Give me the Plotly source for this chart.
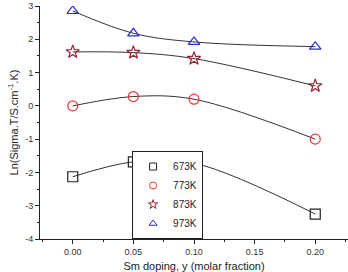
import plotly.graph_objects as go

x_vals = [0.0, 0.05, 0.10, 0.20]
series_names = ["673K", "773K", "873K", "973K"]
y_673 = [-2.13, -1.68, -1.72, -3.25]
y_773 = [0.0, 0.28, 0.20, -1.00]
y_873 = [1.62, 1.60, 1.42, 0.60]
y_973 = [2.85, 2.18, 1.92, 1.78]
y_ticks = [-4, -3, -2, -1, 0, 1, 2, 3]

series = [y_673, y_773, y_873, y_973]
symbols = ["square-open", "circle-open", "star-open", "triangle-up-open"]
colors = ["#222222", "#e8383a", "#9b2335", "#2a2ad6"]

fig = go.Figure()
for ys in series:
    fig.add_trace(go.Scatter(x=x_vals, y=ys, mode="lines", showlegend=False,
                             line=dict(color="#333333", width=1, shape="spline", smoothing=1.0),
                             hoverinfo="skip"))
for name, ys, sym, col in zip(series_names, series, symbols, colors):
    fig.add_trace(go.Scatter(x=x_vals, y=ys, mode="markers", name=name, showlegend=False,
                             marker=dict(symbol=sym, size=10, color=col, line=dict(width=1.2, color=col))))
    # legend entry with smaller marker
    fig.add_trace(go.Scatter(x=[None], y=[None], mode="markers", name=name,
                             marker=dict(symbol=sym, size=7, color=col, line=dict(width=1, color=col))))

axis_common = dict(showline=True, linecolor="#222222", linewidth=1, ticks="outside",
                   ticklen=4, tickcolor="#222222", showgrid=False, zeroline=False,
                   tickfont=dict(family="Liberation Sans, Arial", size=9, color="#333333"))

fig.update_xaxes(range=[-0.027, 0.227], tickvals=[0, 0.05, 0.1, 0.15, 0.2],
                 ticktext=["0.00", "0.05", "0.10", "0.15", "0.20"],
                 minor=dict(ticks="outside", ticklen=2, dtick=0.025, tick0=0, tickcolor="#222222"),
                 title=dict(text="Sm doping, y (molar fraction)", standoff=6,
                            font=dict(family="Liberation Sans, Arial", size=11, color="#222222")),
                 **axis_common)
fig.update_yaxes(range=[-4, 3], tickvals=y_ticks, ticktext=[str(v) for v in y_ticks],
                 minor=dict(ticks="outside", ticklen=2, dtick=0.5, tick0=0, tickcolor="#222222"),
                 title=dict(text="Ln(Sigma.T/S.cm<sup>-1</sup>.K)", standoff=4,
                            font=dict(family="Liberation Sans, Arial", size=11, color="#222222")),
                 **axis_common)

fig.update_layout(
    width=348, height=272,
    margin=dict(l=40, r=0, t=6, b=33),
    plot_bgcolor="white", paper_bgcolor="white",
    legend=dict(x=0.299, y=0, xanchor="left", yanchor="bottom",
                bordercolor="#222222", borderwidth=1, bgcolor="white",
                font=dict(family="Liberation Sans, Arial", size=10, color="#222222"),
                tracegroupgap=0, itemwidth=30),
)

fig.write_html("out.html")
